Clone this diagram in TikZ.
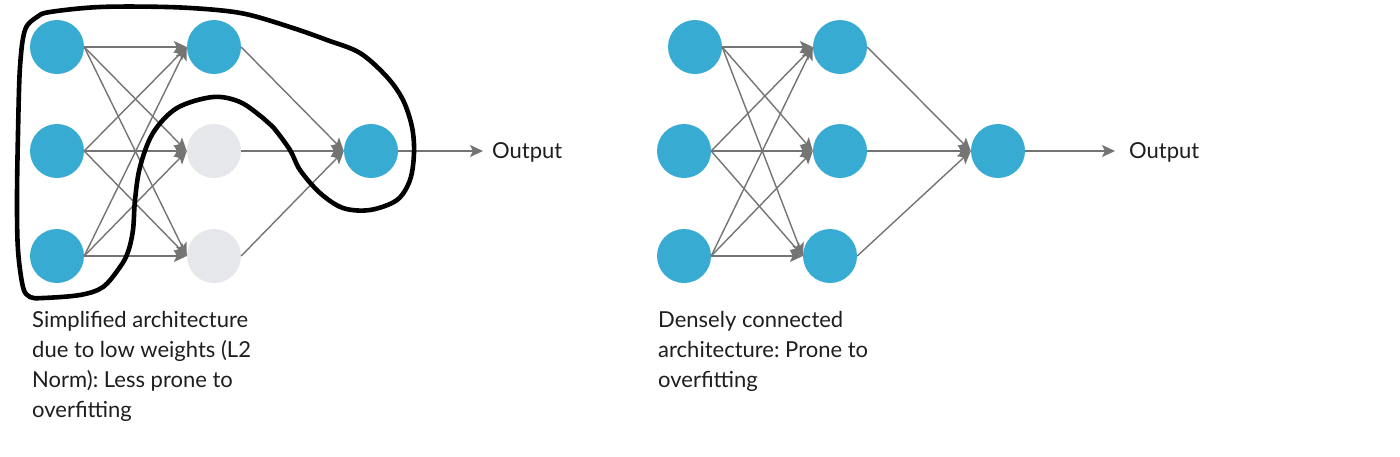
\documentclass[tikz,border=0pt]{standalone}
\usepackage{fontspec}
\setmainfont{Lato}
\usetikzlibrary{arrows.meta}
\definecolor{nblue}{HTML}{37ABD2}
\definecolor{ngray}{HTML}{E6E7EA}
\definecolor{egray}{HTML}{747474}
\definecolor{tcol}{HTML}{1E1E1E}
\tikzset{
  neuron/.style={circle,fill=nblue,draw=none,minimum size=54pt,inner sep=0pt},
  dropped/.style={neuron,fill=ngray},
  conn/.style={draw=egray,line width=1.4pt,-{Stealth[length=13pt,width=12pt,inset=3pt]}},
  outlbl/.style={anchor=west,text=tcol,font=\fontsize{22}{26}\selectfont,inner sep=0pt},
  caption/.style={anchor=north west,text=tcol,align=left,inner sep=0pt,font=\fontsize{22}{30}\selectfont\frenchspacing},
  hand/.style={draw=black,line width=4.6pt,line cap=round,line join=round}
}
\begin{document}
\begin{tikzpicture}[x=1pt,y=-1pt]
\useasboundingbox[fill=white] (0,0) rectangle (1400,456);
% ---------- left network ----------
\node[neuron] (LI1) at (57,47) {};
\node[neuron] (LI2) at (57,151) {};
\node[neuron] (LI3) at (57,256) {};
\node[neuron] (LH1) at (214,47) {};
\node[dropped] (LH2) at (214,151) {};
\node[dropped] (LH3) at (214,256) {};
\node[neuron] (LO) at (371,151) {};
\coordinate (LT) at (483,151);
\node[outlbl] (LOut) at (492,152) {Output};
\foreach \i in {1,2,3}{\foreach \j in {1,2,3}{\draw[conn] (LI\i.east) -- (LH\j.west);}}
\foreach \j in {1,2,3}{\draw[conn] (LH\j.east) -- (LO.west);}
\draw[conn] (LO.east) -- (LT);
% hand drawn loop
\draw[hand] plot[smooth cycle,tension=0.55] coordinates {
 (30,297) (23,287) (18,250) (17,200) (18,133) (20,67) (25,30) (37,17) (50,12) (100,7) (167,7) (217,10) (250,15) (293,28) (327,40) (360,53) (387,77) (403,100) (412,127) (414,153) (410,180) (397,200) (370,210) (343,208) (320,193) (300,170) (290,150) (273,127) (263,118) (240,102) (213,97) (177,108) (153,133) (140,167) (135,200) (133,230) (128,252) (120,267) (103,287) (80,295) (43,298)};
\node[caption] (LCap) at (32,311) {Simplified architecture\\due to low weights (L2\\Norm): Less prone to\\overfitting};
% ---------- right network ----------
\node[neuron] (RI1) at (695,47) {};
\node[neuron] (RI2) at (684,151) {};
\node[neuron] (RI3) at (684,256) {};
\node[neuron] (RH1) at (840,47) {};
\node[neuron] (RH2) at (840,151) {};
\node[neuron] (RH3) at (830,256) {};
\node[neuron] (RO) at (998,151) {};
\coordinate (RT) at (1115,151);
\node[outlbl] (ROut) at (1129,152) {Output};
\foreach \i in {1,2,3}{\foreach \j in {1,2,3}{\draw[conn] (RI\i.east) -- (RH\j.west);}}
\foreach \j in {1,2,3}{\draw[conn] (RH\j.east) -- (RO.west);}
\draw[conn] (RO.east) -- (RT);
\node[caption] (RCap) at (658,311) {Densely connected\\architecture: Prone to\\overfitting};
\end{tikzpicture}
\end{document}
